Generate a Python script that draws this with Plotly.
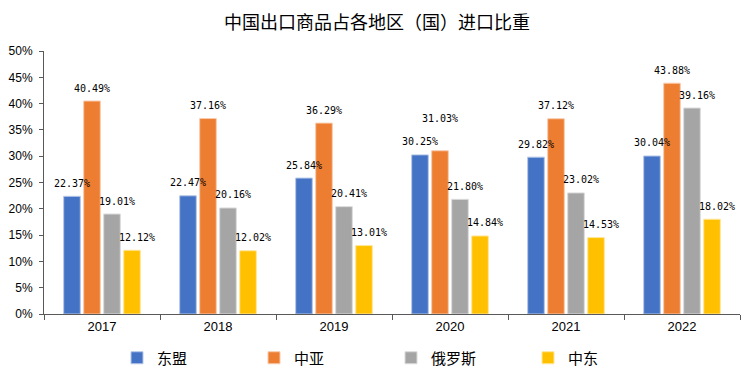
import plotly.graph_objects as go

years = ["2017", "2018", "2019", "2020", "2021", "2022"]
series_names = ["东盟", "中亚", "俄罗斯", "中东"]
asean = [22.37, 22.47, 25.84, 30.25, 29.82, 30.04]
central_asia = [40.49, 37.16, 36.29, 31.03, 37.12, 43.88]
russia = [19.01, 20.16, 20.41, 21.80, 23.02, 39.16]
middle_east = [12.12, 12.02, 13.01, 14.84, 14.53, 18.02]
y_ticks = [0, 5, 10, 15, 20, 25, 30, 35, 40, 45, 50]

colors = ["#4472C4", "#ED7D31", "#A5A5A5", "#FFC000"]
edge = ["#B4C7E7", "#F8CBAD", "#DBDBDB", "#FFE699"]
values = [asean, central_asia, russia, middle_east]

# label placement (style): horizontal nudge per series, extra lift for crowded labels
label_dx = [0, 0, 5, 5]
extra_lift = {(1, "2020"): 19}

W, H = 756, 378
L, R, T, B = 36, 24, 43, 72
bargap, bargroupgap = 0.31, 0.17
cat_px = (W - L - R) / len(years)
slot_px = cat_px * (1 - bargap) / len(series_names)

fig = go.Figure()
for name, vals, c, e in zip(series_names, values, colors, edge):
    fig.add_trace(go.Bar(
        x=years, y=[v / 100 for v in vals], name=name,
        marker=dict(color=c, line=dict(color=e, width=1)),
    ))

for i, vals in enumerate(values):
    for j, (yr, v) in enumerate(zip(years, vals)):
        fig.add_annotation(
            x=j, y=v / 100, text=f"{v:.2f}%", showarrow=False,
            xanchor="center", yanchor="middle",
            xshift=(i - 1.5) * slot_px + label_dx[i],
            yshift=13 + extra_lift.get((i, yr), 0),
            font=dict(family="DejaVu Sans Mono", size=10, color="#000000"),
        )

fig.update_layout(
    width=W, height=H,
    margin=dict(l=L, r=R, t=T, b=B),
    paper_bgcolor="white", plot_bgcolor="white",
    barmode="group", bargap=bargap, bargroupgap=bargroupgap,
    title=dict(text="中国出口商品占各地区（国）进口比重",
               xref="container", x=369 / W, xanchor="center",
               yref="container", y=1 - 15 / H, yanchor="middle",
               font=dict(family="Noto Sans CJK SC", size=18, color="#000000")),
    font=dict(family="Liberation Sans", size=12, color="#000000"),
    legend=dict(orientation="h", xref="container", x=383 / W, xanchor="center",
                yref="container", y=1 - 350 / H, yanchor="middle",
                font=dict(family="Noto Sans CJK SC", size=15, color="#000000"),
                entrywidth=92, entrywidthmode="pixels", itemwidth=30,
                traceorder="normal"),
    showlegend=True,
)
fig.update_xaxes(
    type="category", categoryorder="array", categoryarray=years,
    showline=True, linecolor="#595959", linewidth=1,
    ticks="outside", tickson="boundaries", ticklen=5, tickcolor="#595959",
    showgrid=False, automargin=False, tickfont=dict(family="Liberation Sans", size=13),
)
fig.update_yaxes(
    range=[0, 0.5], tickvals=[t / 100 for t in y_ticks],
    ticktext=[f"{t}%" for t in y_ticks],
    showline=True, linecolor="#595959", linewidth=1,
    ticks="outside", ticklen=4, tickcolor="#595959", ticklabelstandoff=4,
    showgrid=False, zeroline=False, automargin=False,
    tickfont=dict(family="Liberation Sans", size=12),
)

fig.write_html("out.html")
